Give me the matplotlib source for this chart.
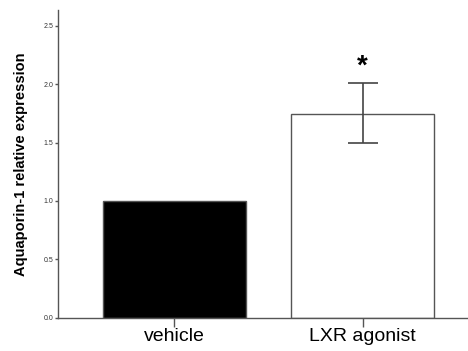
import matplotlib.pyplot as plt

# data
groups = ['vehicle', 'LXR agonist']
expression = [1.0, 1.747]
err_low = [0.0, 0.254]
err_high = [0.0, 0.26]
bar_colors = ['black', 'white']
yticks = [0.0, 0.5, 1.0, 1.5, 2.0, 2.5]

fig = plt.figure(figsize=(4.68, 3.51), dpi=100)
ax = fig.add_axes([0.124, 0.095, 0.876, 0.8765])

pos = [0, 1]
ax.bar(pos, expression, width=0.76, color=bar_colors, edgecolor='#555555', linewidth=1.0, zorder=2)
# error bar only on the agonist group
ax.errorbar([pos[1]], [expression[1]], yerr=[[err_low[1]], [err_high[1]]],
            fmt='none', ecolor='#444444', elinewidth=1.2, capsize=11, capthick=1.2, zorder=3)
ax.text(pos[1], expression[1] + err_high[1] + 0.03, '*', ha='center', va='bottom',
        fontsize=20, fontweight='bold', family='Liberation Sans')

ax.set_xlim(-0.617, 1.56)
ax.set_ylim(0, 2.635)
ax.set_xticks(pos)
ax.set_xticklabels(groups, fontsize=14, family='Liberation Sans')
ax.set_yticks(yticks)
ax.set_yticklabels([f'{v:.1f}' for v in yticks], fontsize=5, family='Liberation Sans')
ax.set_ylabel('Aquaporin-1 relative expression', fontsize=10.5, fontweight='bold',
              family='Liberation Sans', labelpad=11)

for s in ['top', 'right']:
    ax.spines[s].set_visible(False)
for s in ['left', 'bottom']:
    ax.spines[s].set_color('#555555')
    ax.spines[s].set_linewidth(1.0)
ax.tick_params(axis='y', colors='#555555', length=2.5, width=1.0, pad=1, labelcolor='#333333')
ax.tick_params(axis='x', colors='#555555', length=6.5, width=1.0, pad=1, labelcolor='black')

fig.savefig('out.png', dpi=100)
